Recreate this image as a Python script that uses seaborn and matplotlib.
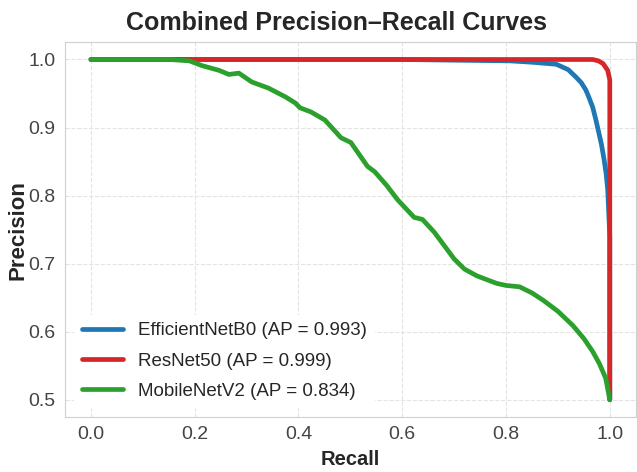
import numpy as np
import pandas as pd
import matplotlib
matplotlib.use("Agg")
import matplotlib.pyplot as plt
import seaborn as sns

# Precision-recall points
eff_recall = [0.0, 0.20, 0.40, 0.60, 0.807, 0.85, 0.897, 0.92, 0.935, 0.945, 0.954,
              0.960, 0.967, 0.973, 0.979, 0.984, 0.989, 0.993, 0.996, 0.998, 1.0, 1.0]
eff_precision = [1.0, 1.0, 1.0, 1.0, 0.998, 0.996, 0.993, 0.985, 0.974, 0.966, 0.955,
                 0.944, 0.930, 0.912, 0.892, 0.875, 0.853, 0.832, 0.809, 0.775, 0.74, 0.5]

res_recall = [0.0, 0.20, 0.40, 0.60, 0.80, 0.967, 0.978, 0.987, 0.996, 1.0, 1.0]
res_precision = [1.0, 1.0, 1.0, 1.0, 1.0, 1.0, 0.998, 0.994, 0.984, 0.97, 0.5]

mob_recall = [0.0, 0.10, 0.151, 0.19, 0.214, 0.247, 0.266, 0.285, 0.31, 0.342, 0.375,
              0.394, 0.403, 0.424, 0.451, 0.482, 0.501, 0.533, 0.547, 0.57, 0.591,
              0.623, 0.639, 0.662, 0.70, 0.72, 0.744, 0.782, 0.80, 0.826, 0.85,
              0.872, 0.90, 0.929, 0.95, 0.967, 0.98, 0.992, 1.0]
mob_precision = [1.0, 1.0, 1.0, 0.998, 0.991, 0.984, 0.978, 0.98, 0.967, 0.958, 0.945,
                 0.936, 0.929, 0.923, 0.911, 0.885, 0.878, 0.843, 0.835, 0.815, 0.794,
                 0.768, 0.765, 0.746, 0.707, 0.692, 0.682, 0.671, 0.668, 0.666, 0.657,
                 0.646, 0.63, 0.609, 0.59, 0.571, 0.553, 0.532, 0.5]

models = ["EfficientNetB0", "ResNet50", "MobileNetV2"]
ap_scores = [0.993, 0.999, 0.834]
colors = ["#1f77b4", "#d62728", "#2ca02c"]

sns.set_style("whitegrid", {"grid.linestyle": "--", "grid.color": "#e3e3e3",
                            "axes.edgecolor": "#d0d0d0"})
plt.rcParams["font.family"] = ["Liberation Sans", "DejaVu Sans"]

fig, ax = plt.subplots(figsize=(6.37, 4.72), dpi=100)
fig.subplots_adjust(left=0.102, right=0.998, bottom=0.117, top=0.91)

curves = [(eff_recall, eff_precision), (res_recall, res_precision), (mob_recall, mob_precision)]
for (rec, prec), name, ap, col in zip(curves, models, ap_scores, colors):
    df = pd.DataFrame({"Recall": rec, "Precision": prec})
    sns.lineplot(data=df, x="Recall", y="Precision", ax=ax, color=col, linewidth=3.4,
                 sort=False, estimator=None, label=f"{name} (AP = {ap:.3f})")

ax.set_xlim(-0.05, 1.05)
ax.set_ylim(0.475, 1.025)
ax.set_xticks(np.arange(0, 1.01, 0.2))
ax.set_yticks(np.arange(0.5, 1.01, 0.1))
ax.tick_params(axis="both", labelsize=14, colors="#444444")
ax.set_title("Combined Precision\u2013Recall Curves", fontsize=18, fontweight="bold",
             pad=9, x=0.476)
ax.set_xlabel("Recall", fontsize=14.5, fontweight="bold", labelpad=5)
ax.set_ylabel("Precision", fontsize=16, fontweight="bold", labelpad=0)
leg = ax.legend(loc="lower left", fontsize=13.5, frameon=True, facecolor="white",
                edgecolor="white", framealpha=1, labelspacing=0.7, handlelength=2.2,
                borderaxespad=0.5)

plt.savefig("out.png", dpi=100)
